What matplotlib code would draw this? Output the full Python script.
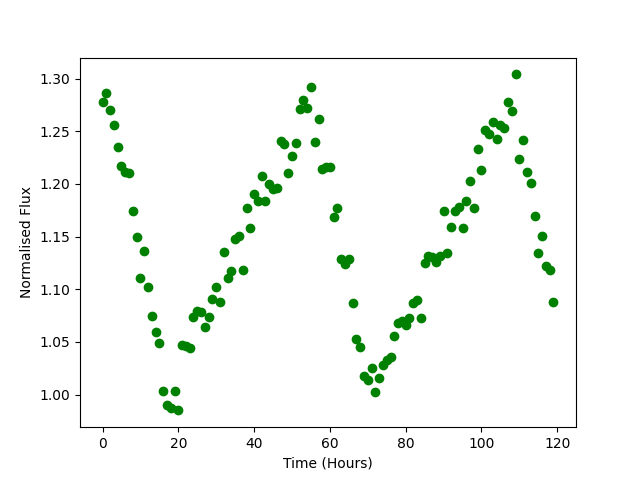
import numpy as np
import matplotlib
matplotlib.use('Agg')
import matplotlib.pyplot as plt

# one reading per hour
time = np.arange(0, 120)

flux = [1.278, 1.286, 1.270, 1.256, 1.235, 1.217, 1.211, 1.210, 1.174, 1.150,
        1.111, 1.136, 1.102, 1.075, 1.059, 1.049, 1.003, 0.990, 0.987, 1.003,
        0.985, 1.047, 1.046, 1.044, 1.074, 1.079, 1.078, 1.064, 1.074, 1.091,
        1.102, 1.088, 1.135, 1.111, 1.117, 1.148, 1.151, 1.118, 1.177, 1.158,
        1.190, 1.184, 1.208, 1.184, 1.200, 1.195, 1.196, 1.241, 1.238, 1.210,
        1.227, 1.239, 1.271, 1.280, 1.272, 1.292, 1.240, 1.262, 1.214, 1.216,
        1.216, 1.169, 1.177, 1.129, 1.124, 1.129, 1.087, 1.053, 1.045, 1.018,
        1.014, 1.025, 1.002, 1.016, 1.028, 1.033, 1.036, 1.056, 1.068, 1.070,
        1.066, 1.073, 1.087, 1.090, 1.073, 1.125, 1.132, 1.131, 1.126, 1.132,
        1.174, 1.134, 1.159, 1.174, 1.178, 1.158, 1.184, 1.203, 1.177, 1.233,
        1.213, 1.251, 1.247, 1.259, 1.243, 1.256, 1.253, 1.278, 1.269, 1.304,
        1.224, 1.242, 1.211, 1.201, 1.170, 1.134, 1.151, 1.122, 1.118, 1.088]

fig = plt.figure(figsize=(6.4, 4.8), dpi=100)
plt.plot(time, flux, 'go')
plt.xlabel('Time (Hours)')
plt.ylabel('Normalised Flux')

fig.savefig('out.png')
plt.close('all')
